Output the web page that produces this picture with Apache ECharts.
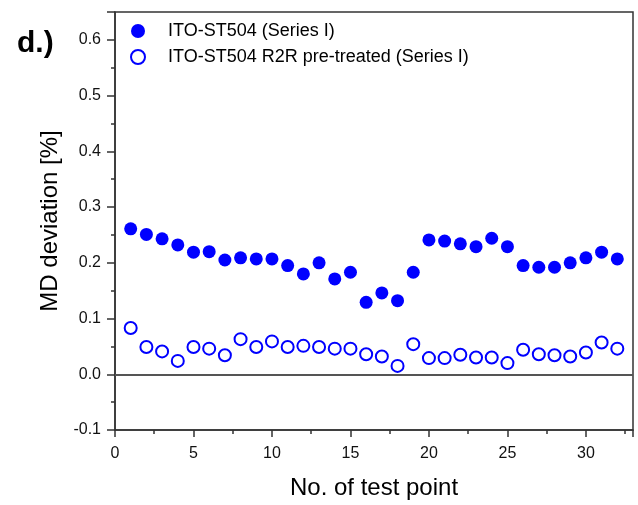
<!DOCTYPE html>
<html>
<head>
<meta charset="utf-8">
<script src="https://cdn.jsdelivr.net/npm/echarts@6/dist/echarts.min.js"></script>
<style>
  html, body { margin: 0; padding: 0; background: #fff; }
  #chart { width: 638px; height: 505px; }
</style>
</head>
<body>
<div id="chart"></div>
<script>
// Test point numbers 1..32
const testPoints = [1, 2, 3, 4, 5, 6, 7, 8, 9, 10, 11, 12, 13, 14, 15, 16,
                    17, 18, 19, 20, 21, 22, 23, 24, 25, 26, 27, 28, 29, 30, 31, 32];

// MD deviation [%], untreated ITO-ST504
const mdUntreated = [0.261, 0.251, 0.243, 0.232, 0.219, 0.220, 0.205, 0.209,
                     0.207, 0.207, 0.195, 0.180, 0.200, 0.171, 0.183, 0.129,
                     0.146, 0.132, 0.183, 0.241, 0.239, 0.234, 0.229, 0.244,
                     0.229, 0.195, 0.192, 0.192, 0.200, 0.209, 0.219, 0.207];

// MD deviation [%], R2R pre-treated ITO-ST504
const mdPretreated = [0.083, 0.049, 0.041, 0.024, 0.049, 0.046, 0.034, 0.063,
                      0.049, 0.059, 0.049, 0.051, 0.049, 0.046, 0.046, 0.036,
                      0.032, 0.015, 0.054, 0.029, 0.029, 0.035, 0.030, 0.030,
                      0.020, 0.044, 0.036, 0.034, 0.032, 0.039, 0.057, 0.046];

const seriesNames = ['ITO-ST504 (Series I)', 'ITO-ST504 R2R pre-treated (Series I)'];

const FONT = 'Liberation Sans, Arial, sans-serif';
const BLUE = '#0000ff';
const AXIS = '#333333';

const pairs = vals => testPoints.map((x, i) => [x, vals[i]]);

const chart = echarts.init(document.getElementById('chart'), null, { renderer: 'canvas' });

chart.setOption({
  animation: false,
  backgroundColor: '#ffffff',
  textStyle: { fontFamily: FONT },
  grid: {
    left: 115, right: 5, top: 12, bottom: 73,
    show: true, borderColor: AXIS, borderWidth: 1.5
  },
  graphic: [{
    type: 'text', left: 17, top: 29,
    style: { text: 'd.)', font: 'bold 30px ' + FONT, fill: '#000' }
  }],
  legend: {
    orient: 'vertical',
    left: 125, top: 17,
    itemWidth: 24, itemHeight: 14, itemGap: 8,
    textStyle: { fontFamily: FONT, fontSize: 18, color: '#000', padding: [0, 0, 0, 13] },
    data: seriesNames
  },
  xAxis: {
    type: 'value', min: 0, max: 33, interval: 5,
    name: 'No. of test point', nameLocation: 'middle', nameGap: 46,
    nameTextStyle: { fontFamily: FONT, fontSize: 24, color: '#000' },
    axisLine: { show: true, onZero: false, lineStyle: { color: AXIS, width: 1.5 } },
    axisTick: { show: true, inside: false, length: 7, lineStyle: { color: AXIS, width: 1.5 } },
    minorTick: { show: true, splitNumber: 2, length: 4, lineStyle: { color: AXIS, width: 1.5 } },
    axisLabel: { fontFamily: FONT, fontSize: 16, color: '#111', margin: 16, showMaxLabel: false },
    splitLine: { show: false }
  },
  yAxis: {
    type: 'value', min: -0.1, max: 0.65, interval: 0.1,
    name: 'MD deviation [%]', nameLocation: 'middle', nameGap: 52,
    nameTextStyle: { fontFamily: FONT, fontSize: 24, color: '#000' },
    axisLine: { show: true, onZero: false, lineStyle: { color: AXIS, width: 1.5 } },
    axisTick: { show: true, inside: false, length: 8, lineStyle: { color: AXIS, width: 1.5 } },
    minorTick: { show: true, splitNumber: 2, length: 4, lineStyle: { color: AXIS, width: 1.5 } },
    axisLabel: {
      fontFamily: FONT, fontSize: 16, color: '#111', margin: 14, showMaxLabel: false,
      formatter: v => v.toFixed(1)
    },
    splitLine: { show: false }
  },
  series: [
    {
      name: seriesNames[0],
      type: 'scatter',
      symbol: 'circle',
      symbolSize: 13,
      itemStyle: { color: BLUE, opacity: 1 },
      data: pairs(mdUntreated),
      markLine: {
        silent: true, symbol: 'none', label: { show: false },
        lineStyle: { color: '#555555', width: 2, type: 'solid' },
        data: [{ yAxis: 0 }]
      },
      z: 3
    },
    {
      name: seriesNames[1],
      type: 'scatter',
      symbol: 'emptyCircle',
      symbolSize: 12,
      itemStyle: { color: BLUE, borderColor: BLUE, borderWidth: 2, opacity: 1 },
      data: pairs(mdPretreated),
      z: 3
    }
  ]
});
</script>
</body>
</html>
